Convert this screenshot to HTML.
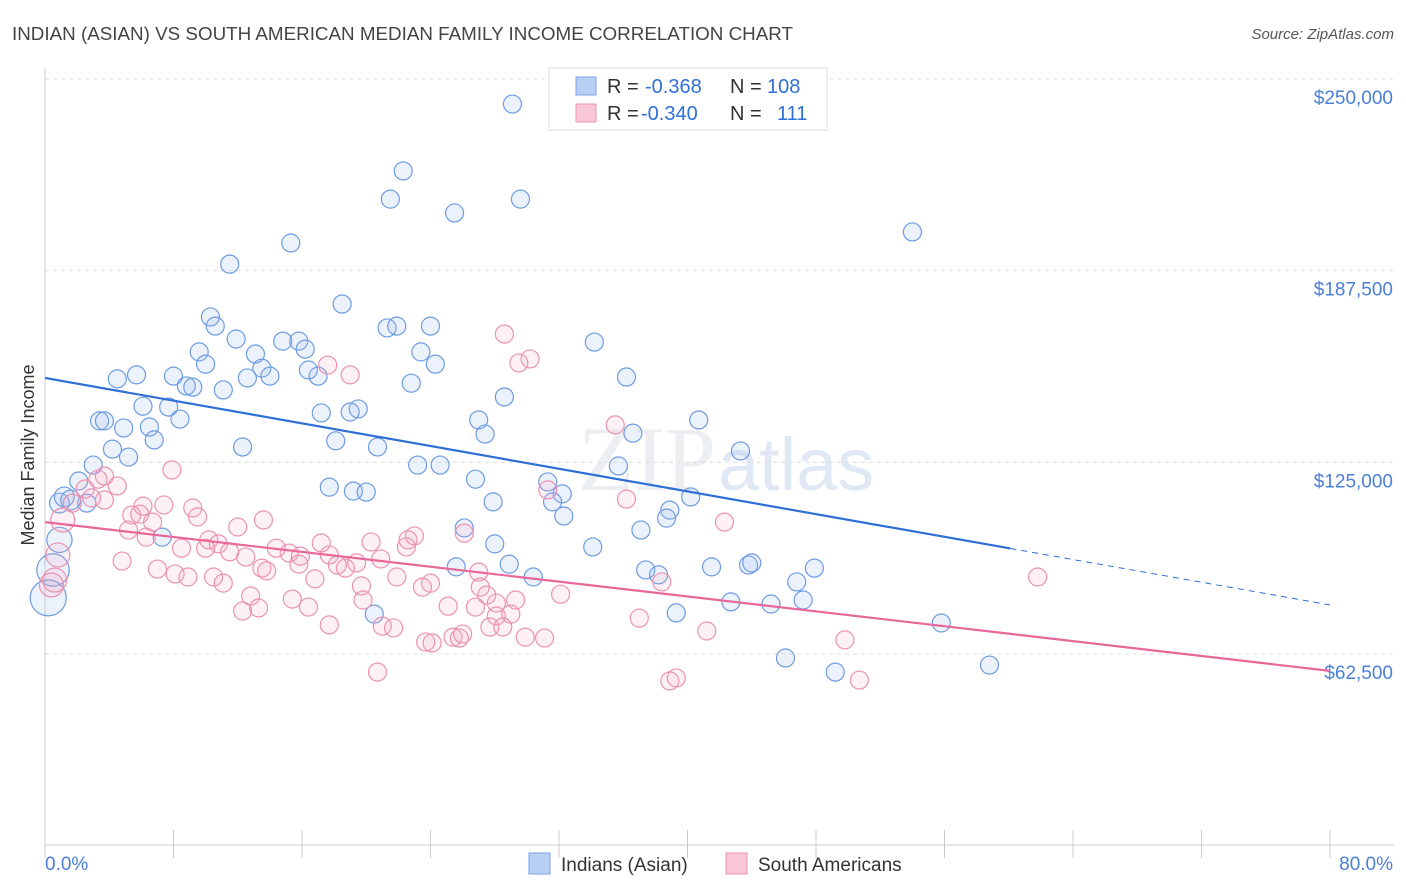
<!DOCTYPE html>
<html><head><meta charset="utf-8"><style>
body{margin:0;background:#fff;font-family:"Liberation Sans",sans-serif;}
#wrap{position:relative;width:1406px;height:892px;overflow:hidden;}
</style></head><body>
<div id="wrap">
<svg id="svg" width="1406" height="892" xmlns="http://www.w3.org/2000/svg">
<text x="12" y="40" font-size="18" fill="#444" textLength="781" lengthAdjust="spacingAndGlyphs">INDIAN (ASIAN) VS SOUTH AMERICAN MEDIAN FAMILY INCOME CORRELATION CHART</text>
<text x="1394" y="39" font-size="15" fill="#555" text-anchor="end" font-style="italic">Source: ZipAtlas.com</text>
<text x="716" y="490" font-size="92" fill="#eceef1" text-anchor="end" font-family="Liberation Serif">ZIP</text>
<text x="718" y="490" font-size="74" fill="#e0e8f5">atlas</text>
<g id="grid"></g><g id="axes"></g><g id="pts"></g><g id="lines"></g>
<text x="34" y="455" font-size="18" fill="#333" text-anchor="middle" transform="rotate(-90 34 455)">Median Family Income</text>
<g>
<rect x="549" y="68" width="278" height="62" fill="#fff" stroke="#ddd"/>
<rect x="576" y="77" width="20" height="18" fill="#b9d0f5" stroke="#7aa3e6"/>
<rect x="576" y="104" width="20" height="18" fill="#f8c6d6" stroke="#eb92b0"/>
<g font-size="20" fill="#333">
<text x="607" y="93">R =</text>
<text x="645" y="93" fill="#2f6fd6">-0.368</text>
<text x="730" y="93">N =</text>
<text x="767" y="93" fill="#2f6fd6">108</text>
<text x="607" y="120">R =</text>
<text x="641" y="120" fill="#2f6fd6">-0.340</text>
<text x="730" y="120">N =</text>
<text x="777" y="120" fill="#2f6fd6">111</text>
</g>
</g>
<g>
<rect x="529" y="853" width="21" height="21" fill="#b9d0f5" stroke="#7aa3e6"/>
<text x="561" y="871" font-size="19" fill="#333">Indians (Asian)</text>
<rect x="726" y="853" width="21" height="21" fill="#f8c6d6" stroke="#eb92b0"/>
<text x="758" y="871" font-size="19" fill="#333">South Americans</text>
</g>
</svg></div>
<script>
const blueX=[29.1,22.3,21.5,29.6,25.5,54.0,15.3,11.5,18.5,10.3,10.6,21.3,21.9,24.0,11.9,14.8,15.8,34.2,16.2,9.6,13.1,23.4,10.0,24.3,16.4,13.5,14.0,17.0,36.2,4.5,5.7,8.0,12.6,22.8,8.8,9.2,11.1,28.6,6.1,7.7,19.5,17.2,19.0,3.4,3.7,27.0,8.4,4.9,6.5,6.8,36.6,27.4,40.7,18.1,12.3,20.7,4.2,43.3,5.2,3.0,23.2,24.6,35.7,26.8,2.1,17.7,19.2,20.0,31.3,32.2,31.6,27.9,40.2,2.6,32.3,38.9,38.7,26.1,37.1,28.0,34.1,7.3,0.9,25.6,28.9,37.4,38.2,41.5,43.8,44.0,47.9,30.4,46.8,47.2,42.7,45.2,39.3,20.5,55.8,46.1,49.2,58.8,0.9,1.2,1.6,0.5,0.2];
const blueY=[241.8,220,210.8,210.8,206.3,200.1,196.5,189.6,176.6,172.4,169.4,168.8,169.4,169.4,165.2,164.5,164.5,164.2,161.9,161,160.3,161,157,157,155.1,155.7,153.1,153.1,152.8,152.2,153.5,153.1,152.5,150.8,149.9,149.5,148.6,146.3,143.3,143,142.4,141.1,141.4,138.5,138.5,138.8,139.1,136.2,136.5,132.3,134.5,134.2,138.8,132,130,130,129.3,128.7,126.7,124.1,124.1,124.1,123.8,119.5,118.9,116.9,115.6,115.3,118.6,114.7,112.1,112.1,113.7,111.7,107.5,109.4,106.8,103.6,102.9,98.4,97.4,100.6,99.7,90.9,91.8,89.9,88.3,90.9,91.5,92.2,90.5,87.6,86,80.1,79.5,78.8,75.9,75.5,72.6,61.2,56.6,58.9,111.7,113.7,112.7,89.9,80.8];
const blueW=[1,1,1,1,1,1,1,1,1,1,1,1,1,1,1,1,1,1,1,1,1,1,1,1,1,1,1,1,1,1,1,1,1,1,1,1,1,1,1,1,1,1,1,1,1,1,1,1,1,1,1,1,1,1,1,1,1,1,1,1,1,1,1,1,1,1,1,1,1,1,1,1,1,1,1,1,1,1,1,1,1,1,1.4,1,1,1,1,1,1,1,1,1,1,1,1,1,1,1,1,1,1,1,1.1,1.1,1.1,1.8,2];
const pinkX=[28.6,30.2,29.5,17.6,19.0,35.5,7.9,3.7,3.3,2.5,4.5,31.3,3.7,36.2,2.9,1.7,7.4,9.2,5.4,5.9,6.1,9.5,13.6,12.0,42.3,26.1,6.7,5.2,6.3,4.8,8.5,10.2,10.8,10.0,11.5,12.5,14.4,15.2,15.9,15.8,17.2,20.3,22.6,23.0,22.5,17.7,18.2,19.4,18.7,20.9,7.0,8.1,8.9,10.5,11.1,13.5,13.8,16.8,19.7,21.9,24.0,23.5,27.0,27.1,32.1,38.4,61.8,12.8,13.3,12.3,15.4,16.4,19.8,25.1,26.8,27.5,28.1,29.3,17.7,21.0,21.7,23.7,24.1,25.4,25.8,26.0,28.1,29.0,27.7,28.5,29.9,31.1,37.0,41.2,49.8,20.7,38.9,39.3,50.7,0.6,0.4,0.8,1.1];
const pinkY=[166.8,158.7,157.4,156.7,153.5,137.2,122.5,120.5,119.5,116.3,117.3,116,112.7,113,113.4,111.7,111.1,110.1,107.8,108.1,110.7,107.2,106.2,103.9,105.5,101.9,105.5,102.9,100.6,92.8,97,99.7,98.4,97,95.8,94.1,97,95.4,94.4,91.8,98.7,99,99.7,101,97.4,94.8,91.5,92.2,90.5,93.5,90.2,88.6,87.6,87.6,85.6,90.5,89.6,87,84.7,87.6,85.6,84.3,89.2,84.3,82,86,87.6,81.4,77.5,76.5,80.4,77.8,80.1,78.1,77.8,81.7,79.1,80.1,72,71.6,71,66.4,66.1,68,67.7,69,74.9,75.5,71.3,71.3,68,67.7,74.2,70,67.1,56.6,53.7,54.7,54,86.6,85,94.8,106.2];
const yTicks=[62500,125000,187500,250000];
const yTickLabels=["$62,500","$125,000","$187,500","$250,000"];
const blueTrend=[152.5,78.5,60.1];
const pinkTrend=[105.5,57.0];
const NS="http://www.w3.org/2000/svg";
const X=p=>45+p/80*1285;
const Y=v=>654-(v-62.5)/62.5*191.7;
function mk(tag,attrs,parent){const e=document.createElementNS(NS,tag);for(const k in attrs)e.setAttribute(k,attrs[k]);document.getElementById(parent).appendChild(e);return e;}
yTicks.forEach((t,i)=>{
 const l=mk('line',{x1:45,x2:1394,y1:Y(t/1000),y2:Y(t/1000),stroke:'#ddd','stroke-dasharray':'4,4'},'grid');
 
 
 const tx=mk('text',{x:1393,y:Y(t/1000)+25,'font-size':19,fill:'#4a7fd8','text-anchor':'end'},'axes');
 tx.textContent=yTickLabels[i];
 
 
});
const ax=mk('line',{x1:45,x2:45,y1:68,y2:845,stroke:'#ccc'},'axes');


const bx=mk('line',{x1:45,x2:1394,y1:845,y2:845,stroke:'#ccc'},'axes');


for(let p=0;p<=80;p+=8){const t=mk('line',{x1:X(p),x2:X(p),y1:830,y2:858,stroke:'#ccc'},'axes');
 
 }
[[0,'0.0%','start'],[80,'80.0%','end']].forEach(d=>{const t=mk('text',{x:d[0]==0?45:1393,y:870,'font-size':19,fill:'#4a7fd8','text-anchor':d[2]},'axes');t.textContent=d[1];
 
 });
blueX.forEach((x,i)=>{const c=mk('circle',{cx:X(x),cy:Y(blueY[i]),r:9*blueW[i],fill:'rgba(150,185,240,0.18)',stroke:'#6d9be2','stroke-width':1.2},'pts');
 
 });
pinkX.forEach((x,i)=>{const c=mk('circle',{cx:X(x),cy:Y(pinkY[i]),r:i>=pinkX.length-4?12:9,fill:'rgba(245,170,195,0.16)',stroke:'#eb92b0','stroke-width':1.2},'pts');
 
 });
const bv=p=>blueTrend[0]+(blueTrend[1]-blueTrend[0])*p/80;
const l1=mk('line',{x1:X(0),y1:Y(bv(0)),x2:X(blueTrend[2]),y2:Y(bv(blueTrend[2])),stroke:'#2f6fd6','stroke-width':2.2},'lines');


const l2=mk('line',{x1:X(blueTrend[2]),y1:Y(bv(blueTrend[2])),x2:X(80),y2:Y(bv(80)),stroke:'#2f6fd6','stroke-width':1,'stroke-dasharray':'6,5'},'lines');


const l3=mk('line',{x1:X(0),y1:Y(pinkTrend[0]),x2:X(80),y2:Y(pinkTrend[1]),stroke:'#e8679a','stroke-width':2.2},'lines');


</script>
</body></html>
